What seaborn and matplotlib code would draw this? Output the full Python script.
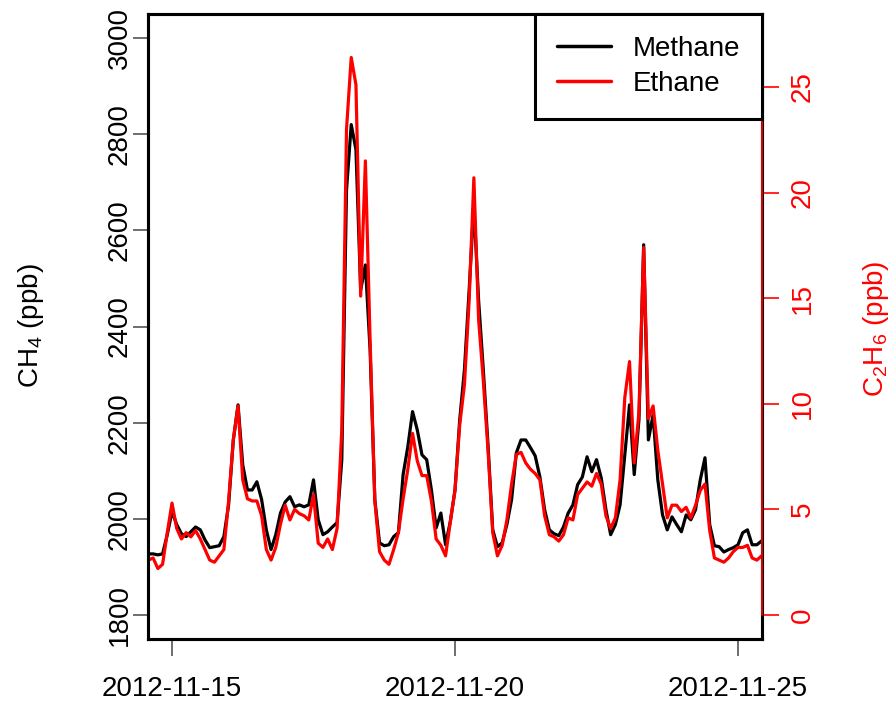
import numpy as np
import pandas as pd
import matplotlib
matplotlib.use("Agg")
import matplotlib.pyplot as plt
import matplotlib.dates as mdates
from matplotlib.lines import Line2D
import seaborn as sns

# ---- data (2-hourly) ----
start_time = "2012-11-14 14:00"
methane = [1927,1927,1925,1927,1967,2015,1988,1969,1963,1973,
           1983,1977,1956,1940,1942,1944,1963,2029,2164,2237,
           2112,2060,2060,2077,2040,1977,1936,1967,2012,2035,
           2046,2025,2029,2025,2029,2081,1998,1967,1973,1983,
           1992,2123,2684,2820,2768,2476,2528,2351,2040,1950,
           1944,1946,1963,1971,2092,2150,2223,2185,2133,2123,
           2060,1981,2012,1946,1994,2060,2206,2310,2476,2653,
           2455,2310,2154,1977,1942,1950,1988,2040,2137,2164,
           2164,2148,2131,2087,2019,1977,1969,1965,1983,2012,
           2029,2071,2087,2129,2098,2123,2085,2019,1967,1988,
           2029,2133,2237,2092,2206,2570,2164,2216,2081,2008,
           1977,2004,1988,1973,2008,1998,2019,2081,2127,1988,
           1944,1942,1931,1936,1940,1946,1971,1977,1946,1946,
           1954]
ethane = [2.6,2.7,2.2,2.4,3.9,5.3,4.1,3.6,3.9,3.7,
          4.0,3.6,3.1,2.6,2.5,2.8,3.1,5.4,8.3,9.9,
          6.4,5.5,5.4,5.4,4.7,3.1,2.6,3.2,4.3,5.2,
          4.5,5.0,4.8,4.7,4.5,5.7,3.4,3.2,3.6,3.1,
          4.1,8.8,23.0,26.4,25.1,15.1,21.5,13.0,5.4,3.0,
          2.6,2.4,3.1,3.9,5.5,6.9,8.6,7.3,6.6,6.6,
          5.4,3.6,3.3,2.8,4.4,5.9,9.0,10.9,14.9,20.7,
          14.0,11.1,7.8,3.9,2.8,3.3,4.5,6.2,7.6,7.7,
          7.2,6.9,6.7,6.4,4.7,3.8,3.7,3.5,3.8,4.6,
          4.5,5.7,6.0,6.3,6.1,6.7,6.2,4.7,4.1,4.6,
          6.4,10.3,12.0,7.2,9.6,17.4,9.3,9.9,7.8,6.2,
          4.6,5.2,5.2,4.9,5.1,4.6,5.2,5.9,6.2,4.0,
          2.7,2.6,2.5,2.7,3.0,3.2,3.2,3.3,2.7,2.6,
          2.8]
x_tick_dates = ["2012-11-15", "2012-11-20", "2012-11-25"]
ch4_ticks = [1800, 2000, 2200, 2400, 2600, 2800, 3000]
c2h6_ticks = [0, 5, 10, 15, 20, 25]
series_names = ["Methane", "Ethane"]

times = pd.date_range(start_time, periods=len(methane), freq="2h")
df = pd.DataFrame({"time": times, "methane": methane, "ethane": ethane})

sns.set_style("white")
plt.rcParams["font.family"] = ["Liberation Sans", "DejaVu Sans"]
plt.rcParams["mathtext.fontset"] = "custom"
plt.rcParams["mathtext.rm"] = "Liberation Sans"
plt.rcParams["mathtext.it"] = "Liberation Sans"
plt.rcParams["text.color"] = "black"

FS = 20
fig = plt.figure(figsize=(8.9, 7.07), dpi=100)
ax = fig.add_axes([148/890, 1-639/707, (762-148)/890, (639-14)/707])
ax2 = ax.twinx()

sns.lineplot(data=df, x="time", y="methane", ax=ax, color="black", lw=2.3)
sns.lineplot(data=df, x="time", y="ethane", ax=ax2, color="red", lw=2.3)

x0 = pd.Timestamp("2012-11-15") - pd.Timedelta(days=0.424)
x1 = pd.Timestamp("2012-11-25") + pd.Timedelta(days=0.424)
ax.set_xlim(x0, x1)
ax.set_ylim(1750, 3050)
ax2.set_ylim(-1.136, 28.456)

ax.set_xticks(pd.to_datetime(x_tick_dates))
ax.xaxis.set_major_formatter(mdates.DateFormatter("%Y-%m-%d"))
ax.set_yticks(ch4_ticks)
ax2.set_yticks(c2h6_ticks)
ax.set_xlabel("")
ax.set_ylabel("")
ax2.set_xlabel("")
ax2.set_ylabel("")

for a in (ax, ax2):
    for s in a.spines.values():
        s.set_linewidth(2.2)
        s.set_color("black")

ax.tick_params(axis="x", direction="out", length=12, width=1.2, color="#555555",
               labelcolor="black", labelsize=FS, pad=15, bottom=True)
ax.tick_params(axis="y", direction="out", length=11, width=1.2, color="#555555",
               labelcolor="black", labelsize=FS, pad=0, left=True)
for lbl in ax.get_yticklabels():
    lbl.set_rotation(90)
    lbl.set_va("center")
ax2.tick_params(axis="y", direction="out", length=12, width=1.2, color="red",
                labelcolor="red", labelsize=FS, pad=8, right=True)
for lbl in ax2.get_yticklabels():
    lbl.set_rotation(90)
    lbl.set_va("center")

# red axis line over the right frame between 0 and 25
ax2.plot([1, 1], [0, 25], transform=ax2.get_yaxis_transform(), color="red",
         lw=1.2, clip_on=False, zorder=10)

fig.text(31/890, 1-326/707, r"$\mathrm{CH_4}$ (ppb)", rotation=90, ha="center",
         va="center", fontsize=FS, color="black")
fig.text(876/890, 1-329/707, r"$\mathrm{C_2H_6}$ (ppb)", rotation=90, ha="center",
         va="center", fontsize=FS, color="red")

handles = [Line2D([], [], color="black", lw=2.5), Line2D([], [], color="red", lw=2.5)]
leg = ax2.legend(handles, series_names, loc="upper right", borderaxespad=0,
                 fontsize=FS, frameon=True, fancybox=False, handlelength=1.95,
                 handletextpad=0.75, borderpad=0.8, labelspacing=0.31)
leg.get_frame().set_edgecolor("black")
leg.get_frame().set_linewidth(2.2)
leg.get_frame().set_alpha(1)
for t in leg.get_texts():
    t.set_color("black")
leg.set_zorder(20)

fig.savefig("out.png", dpi=100)
